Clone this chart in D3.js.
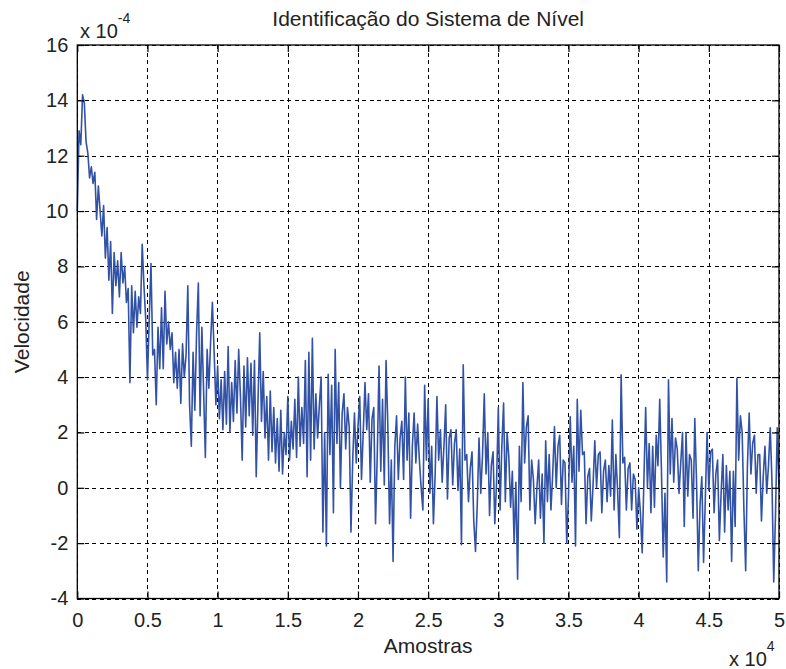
<!DOCTYPE html>
<html>
<head>
<meta charset="utf-8">
<script src="https://cdn.jsdelivr.net/npm/d3@7"></script>
<style>
  html, body { margin: 0; padding: 0; background: #fff; }
  svg { display: block; font-family: "Liberation Sans", Arial, sans-serif; }
</style>
</head>
<body>
<svg id="chart" width="786" height="669"></svg>
<script>
// ---- data ----
const titleText = "Identificação do Sistema de Nível";
const xLabelText = "Amostras";
const yLabelText = "Velocidade";
const xTickValues = [0, 5000, 10000, 15000, 20000, 25000, 30000, 35000, 40000, 45000, 50000];
const xTickLabels = ["0", "0.5", "1", "1.5", "2", "2.5", "3", "3.5", "4", "4.5", "5"];
const yTickValues = [-4, -2, 0, 2, 4, 6, 8, 10, 12, 14, 16];
const yTickLabels = ["-4", "-2", "0", "2", "4", "6", "8", "10", "12", "14", "16"];
const sampleStep = 125; // samples between stored points
// velocity values in units of 1e-4
const velocity = [
  10.0, 12.9, 12.4, 14.2, 13.9, 12.5, 12.1, 11.2, 11.6, 11.0, 11.4, 9.7, 10.9, 10.0, 9.1, 10.2,
  8.3, 9.4, 7.5, 8.9, 6.3, 8.5, 7.3, 8.2, 6.9, 8.5, 7.4, 8.0, 6.7, 7.2, 3.8, 7.3,
  5.6, 7.1, 5.8, 6.9, 6.3, 8.8, 7.3, 6.1, 3.9, 6.1, 8.1, 4.8, 5.0, 3.0, 5.8, 4.3,
  6.5, 4.3, 7.1, 5.2, 6.0, 5.0, 5.6, 3.8, 4.9, 3.6, 5.0, 3.05, 5.2, 4.0, 4.8, 7.3,
  3.0, 1.5, 4.9, 2.8, 5.6, 7.4, 2.6, 5.8, 3.5, 1.1, 5.0, 3.6, 5.3, 6.7, 4.9, 3.0,
  4.4, 2.5, 3.9, 2.1, 4.2, 2.3, 5.1, 2.0, 3.8, 2.4, 4.6, 2.7, 5.0, 3.3, 1.0, 4.4,
  2.2, 4.7, 2.6, 4.5, 1.9, 4.6, 0.4, 3.1, 5.6, 2.4, 4.2, 1.8, 3.3, 1.0, 3.5, 1.3,
  2.9, 0.9, 2.5, 0.6, 2.8, 0.5, 2.0, 1.2, 3.3, 1.0, 2.4, 1.4, 3.2, 1.1, 4.0, 1.5,
  2.9, 1.6, 4.6, 0.4, 4.9, 1.0, 5.4, 1.4, 3.4, 1.8, 3.0, 4.0, -1.6, 2.0, -2.1, 4.1,
  1.2, 3.7, -0.9, 5.0, 1.6, 3.8, 0.0, 2.7, 3.4, 1.4, 2.9, 2.2, -1.6, 1.0, 2.7, 0.9,
  2.2, 3.3, 0.3, 2.0, 3.8, 2.1, 3.4, 0.2, 2.5, 2.9, -1.3, 1.2, 4.4, 0.6, 3.2, 0.1,
  4.6, 2.3, -1.3, 1.0, -2.66, 1.5, 2.6, 0.3, 1.8, 2.4, 0.3, 4.0, 1.0, 2.7, -1.1, 1.5,
  2.7, 0.9, 2.3, 1.0, 0.0, -0.8, 3.7, 1.0, 3.2, -0.2, 1.5, -1.3, 0.5, 3.3, 1.0, 2.1,
  0.2, 1.5, 3.0, -0.4, 1.8, 2.1, 0.1, 1.6, 2.1, -0.1, 1.4, -2.06, 4.44, 1.0, 1.2, -0.5,
  0.7, 1.3, -1.2, -2.3, -0.6, 1.8, -0.2, 1.2, 3.4, 0.5, 2.0, -1.0, 0.8, 1.3, -1.3, 0.2,
  2.9, -0.8, 1.5, 3.06, -0.5, 2.0, 1.1, -0.7, 0.6, -2.0, 0.2, -3.3, 1.5, -0.5, 3.8, 0.9,
  2.2, 2.6, -0.8, 1.0, 0.3, -1.3, 0.0, 1.0, -1.1, 0.5, -2.0, 1.7, -0.5, 1.2, -0.8, 0.5,
  2.2, 0.0, 1.5, 1.9, -0.6, 1.0, 0.9, -2.0, -0.3, 2.57, 0.2, 1.5, -2.1, 3.2, 0.6, 2.8,
  1.2, 1.3, -1.3, 0.4, 0.7, -1.2, 0.1, 1.7, 0.0, 1.2, 1.3, -0.9, 0.6, 1.0, -0.5, 0.8,
  -0.3, 2.45, -0.8, 1.2, -0.1, -1.8, 4.08, 0.9, 1.1, -0.8, 0.7, 0.9, -0.8, 0.5, 0.3, -1.5,
  0.0, -0.9, -2.35, 0.3, 2.9, 0.0, 1.6, -0.9, 1.5, -0.7, 1.9, 0.8, 3.2, 0.6, -2.5, -0.2,
  -3.4, 3.9, 0.5, 2.5, 0.2, 1.8, 1.4, -0.2, 0.9, 2.0, -1.4, 2.0, -0.3, 1.2, 1.0, -1.1,
  2.5, 0.2, -3.0, -0.6, 0.4, -2.7, -0.4, 2.0, -0.1, 1.3, 1.4, -0.9, 0.5, 1.0, -1.9, -0.2,
  1.2, -1.6, 0.8, -0.8, 0.6, -2.66, 0.6, -1.4, 3.96, 1.0, 2.6, 2.0, -0.8, -3.0, 0.8, 2.7,
  0.5, 1.6, 1.9, -0.2, 1.2, 1.2, -1.2, 0.4, 1.5, -0.2, 0.8, 2.17, 0.2, -3.4, -1.0, 2.17,
  0.0
];

// ---- layout ----
const W = 786, H = 669;
const margin = { top: 45, right: 7, bottom: 70.5, left: 77.3 };
const iw = W - margin.left - margin.right;
const ih = H - margin.top - margin.bottom;

const svg = d3.select("#chart");
const g = svg.append("g").attr("transform", `translate(${margin.left},${margin.top})`);

const x = d3.scaleLinear().domain([0, 50000]).range([0, iw]);
const y = d3.scaleLinear().domain([-4, 16]).range([ih, 0]);

// white plot background
g.append("rect").attr("width", iw).attr("height", ih).attr("fill", "#fff");

// grid
const grid = g.append("g").attr("stroke", "#000").attr("stroke-width", 1)
  .attr("stroke-dasharray", "4,3.5").attr("shape-rendering", "crispEdges");
grid.selectAll("line.gx").data(xTickValues).join("line")
  .attr("class", "gx")
  .attr("x1", d => Math.round(x(d)) + 0.5).attr("x2", d => Math.round(x(d)) + 0.5)
  .attr("y1", 0).attr("y2", ih);
grid.selectAll("line.gy").data(yTickValues).join("line")
  .attr("class", "gy")
  .attr("y1", d => Math.round(y(d)) + 0.5).attr("y2", d => Math.round(y(d)) + 0.5)
  .attr("x1", 0).attr("x2", iw);

// data line
const line = d3.line()
  .x((d, i) => x(i * sampleStep))
  .y(d => y(d));
g.append("path")
  .datum(velocity)
  .attr("fill", "none")
  .attr("stroke", "#3252a6")
  .attr("stroke-width", 1.6)
  .attr("stroke-linejoin", "round")
  .attr("d", line);

// axes (MATLAB style: inward ticks on all sides)
const tickLen = 7;
const fmtX = (d, i) => xTickLabels[i];
const fmtY = (d, i) => yTickLabels[i];

const axB = g.append("g").attr("transform", `translate(0,${ih})`)
  .call(d3.axisBottom(x).tickValues(xTickValues).tickFormat(fmtX)
    .tickSizeInner(-tickLen).tickSizeOuter(0).tickPadding(14));
const axL = g.append("g")
  .call(d3.axisLeft(y).tickValues(yTickValues).tickFormat(fmtY)
    .tickSizeInner(-tickLen).tickSizeOuter(0).tickPadding(9));
const axT = g.append("g")
  .call(d3.axisTop(x).tickValues(xTickValues).tickFormat("")
    .tickSizeInner(-tickLen).tickSizeOuter(0));
const axR = g.append("g").attr("transform", `translate(${iw},0)`)
  .call(d3.axisRight(y).tickValues(yTickValues).tickFormat("")
    .tickSizeInner(-tickLen).tickSizeOuter(0));

[axB, axL, axT, axR].forEach(a => {
  a.selectAll(".domain").remove();
  a.selectAll(".tick line").attr("stroke", "#000").attr("stroke-width", 1.2);
  a.selectAll("text").attr("fill", "#222").attr("font-size", 20)
    .attr("font-family", "'Liberation Sans', Arial, sans-serif");
});

// box
g.append("rect").attr("width", iw).attr("height", ih)
  .attr("fill", "none").attr("stroke", "#000").attr("stroke-width", 1.3);

// title and labels
svg.append("text").attr("x", margin.left + iw / 2).attr("y", 26)
  .attr("text-anchor", "middle").attr("font-size", 21).attr("fill", "#222")
  .text(titleText);

svg.append("text").attr("x", margin.left + iw / 2).attr("y", 653)
  .attr("text-anchor", "middle").attr("font-size", 21).attr("fill", "#222")
  .text(xLabelText);

svg.append("text")
  .attr("transform", `translate(29,${margin.top + ih / 2 + 0}) rotate(-90)`)
  .attr("text-anchor", "middle").attr("font-size", 21).attr("fill", "#222")
  .text(yLabelText);

// exponent annotations
const expTop = svg.append("text").attr("x", 80).attr("y", 38).attr("font-size", 20).attr("fill", "#222");
expTop.append("tspan").text("x 10");
expTop.append("tspan").attr("dy", -15).attr("font-size", 14).text("-4");

const expBot = svg.append("text").attr("x", 729).attr("y", 666).attr("font-size", 20).attr("fill", "#222");
expBot.append("tspan").text("x 10");
expBot.append("tspan").attr("dy", -15).attr("font-size", 14).text("4");
</script>
</body>
</html>
